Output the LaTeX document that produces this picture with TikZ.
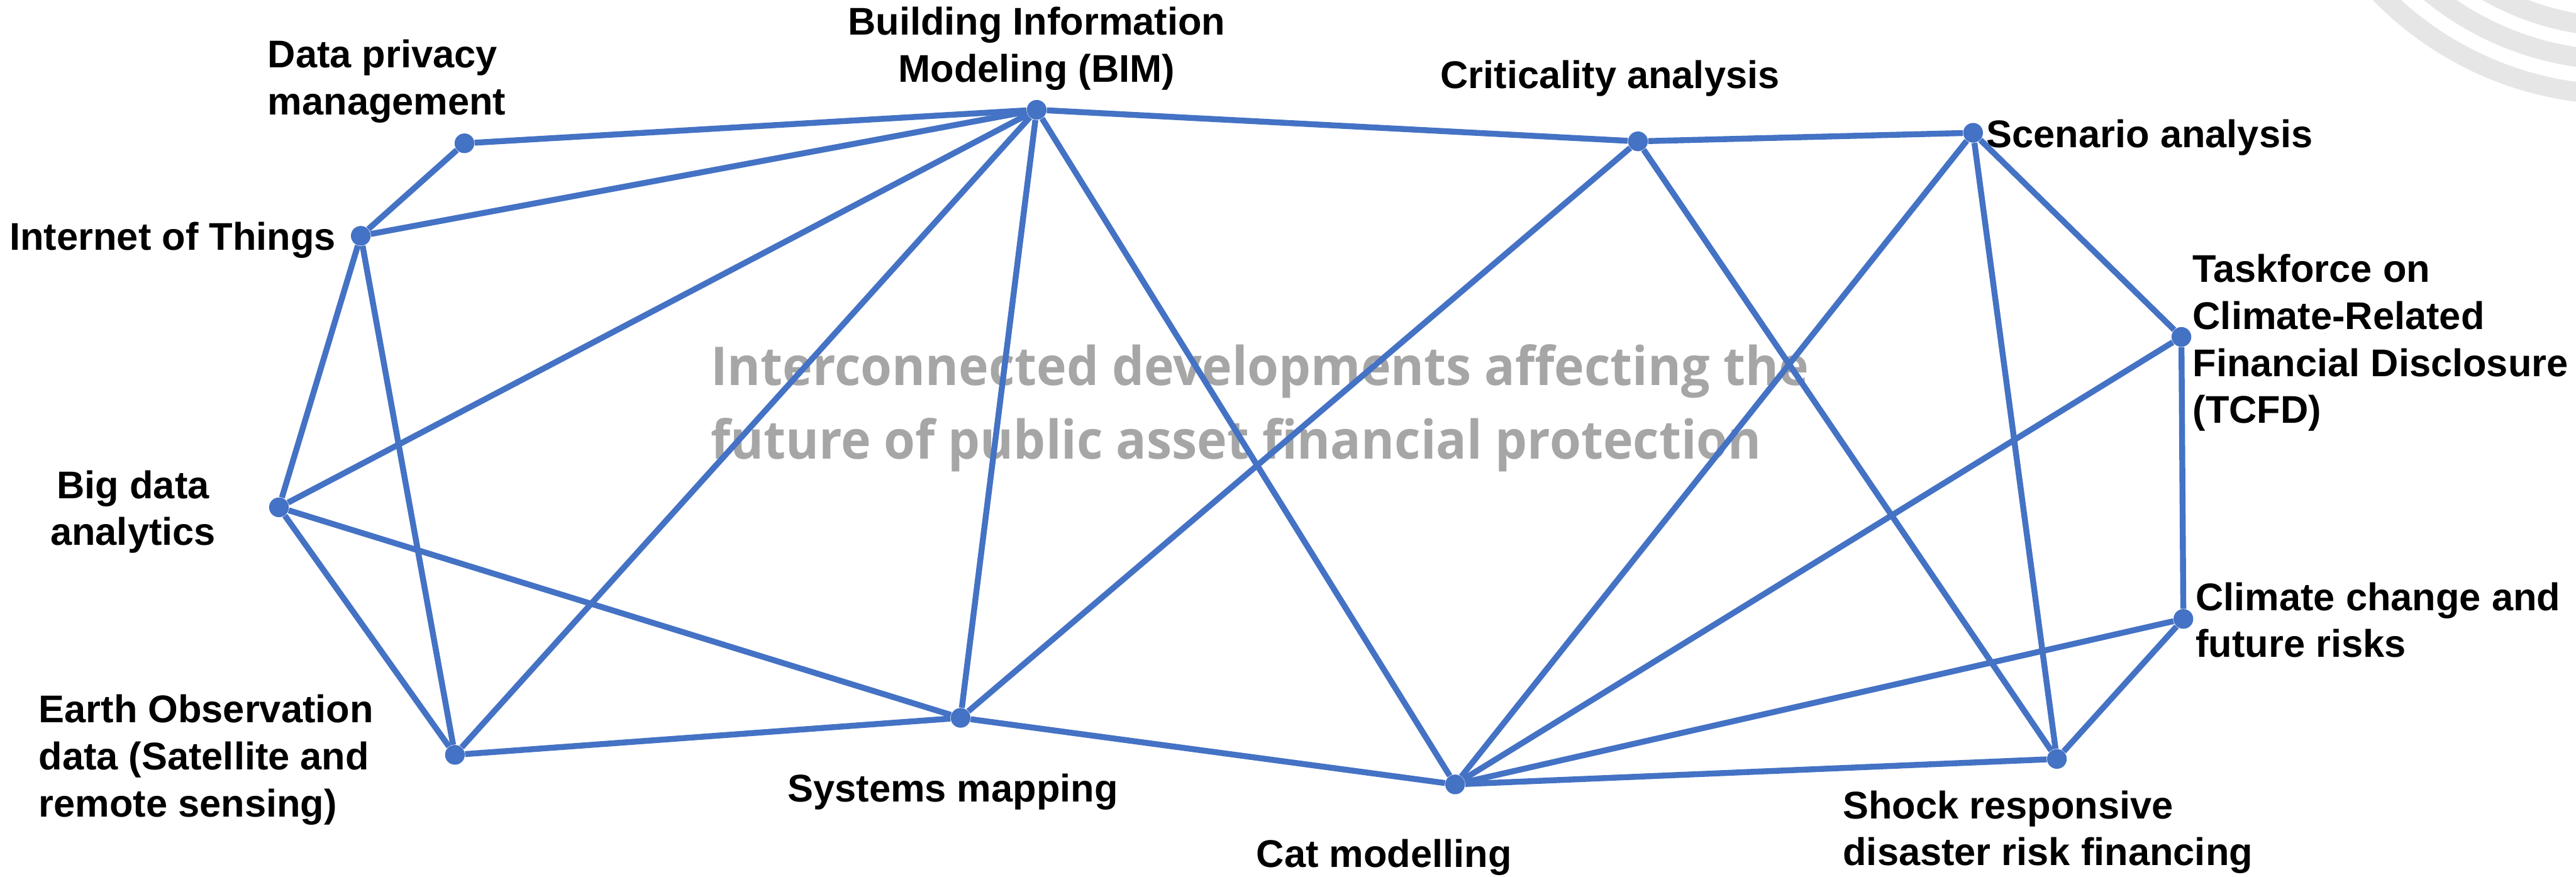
\documentclass[tikz,border=0pt]{standalone}
\usepackage{fontspec}
\setmainfont{Liberation Sans}
\newfontfamily\overlayfont[FakeStretch=0.95]{Open Sans}
\usetikzlibrary{backgrounds}
\definecolor{netblue}{HTML}{4472C4}
\definecolor{captiongray}{HTML}{A6A6A6}
\definecolor{arcgray}{HTML}{E6E6E6}

\begin{document}
\begin{tikzpicture}[x=1pt,y=-1pt,
  dot/.style={circle, fill=netblue, draw=none, inner sep=0pt, minimum size=12pt},
  link/.style={draw=netblue, line width=3.6pt},
  lbl/.style={font=\fontsize{23.5}{28.6}\selectfont\bfseries, inner sep=0pt, text=black},
  caption/.style={font=\overlayfont\bfseries\fontsize{32.5}{44.8}\selectfont, text=captiongray, inner sep=0pt, align=left},
  band/.style={draw=arcgray, line width=12pt}]

\useasboundingbox (0,0) rectangle (1568,533.5);

% network points
\node[dot] (dpm)   at (282.7,87.2)  {};
\node[dot] (iot)   at (219.6,143.5) {};
\node[dot] (bim)   at (631,66.8)    {};
\node[dot] (crit)  at (997,86)      {};
\node[dot] (scen)  at (1201,80.8)   {};
\node[dot] (tcfd)  at (1327.8,205)  {};
\node[dot] (clim)  at (1329,376.6)  {};
\node[dot] (shock) at (1252,461.8)  {};
\node[dot] (cat)   at (885.7,477.3) {};
\node[dot] (sys)   at (584.7,436.8) {};
\node[dot] (earth) at (276.9,459.3) {};
\node[dot] (big)   at (169.8,308.7) {};

% labels
\node[lbl, anchor=north west, align=left]   (tdpm)   at (162.8,24)    {Data privacy\\management};
\node[lbl, anchor=north, align=center]      (tbim)   at (631,4.2)     {Building Information\\Modeling (BIM)};
\node[lbl, anchor=base]                     (tcrit)  at (980,53.7)    {Criticality analysis};
\node[lbl, anchor=base west]                (tscen)  at (1209,89.9)   {Scenario analysis};
\node[lbl, anchor=north west, align=left]   (ttcfd)  at (1334.5,154.5){Taskforce on\\Climate-Related\\Financial Disclosure\\(TCFD)};
\node[lbl, anchor=north west, align=left]   (tclim)  at (1336.3,354.2){Climate change and\\future risks};
\node[lbl, anchor=north west, align=left]   (tshock) at (1121.6,480.9){Shock responsive\\disaster risk financing};
\node[lbl, anchor=base]                     (tcat)   at (842.5,527.8) {Cat modelling};
\node[lbl, anchor=base]                     (tsys)   at (580,487.8)   {Systems mapping};
\node[lbl, anchor=north west, align=left]   (tearth) at (23.4,422.5)  {Earth Observation\\data (Satellite and\\remote sensing)};
\node[lbl, anchor=north, align=center]      (tbig)   at (81,286)      {Big data\\analytics};
\node[lbl, anchor=base west]                (tiot)   at (5.7,152.3)   {Internet of Things};

\begin{scope}[on background layer]
  % decorative arcs in the upper right corner
  \begin{scope}
    \clip (0,0) rectangle (1568,533.5);
    \coordinate (arcc) at (1595,-147);
    \draw[band] (arcc) circle[radius=204.6pt];
    \draw[band] (arcc) circle[radius=183.6pt];
    \draw[band] (arcc) circle[radius=163.3pt];
  \end{scope}
  % central caption
  \node[caption, anchor=north west] (title) at (432.4,209.5)
    {Interconnected developments affecting the\\future of public asset financial protection};
  % connections
  \draw[link] (dpm) -- (iot);
  \draw[link] (dpm) -- (bim);
  \draw[link] (iot) -- (bim);
  \draw[link] (iot) -- (big);
  \draw[link] (iot) -- (earth);
  \draw[link] (big) -- (bim);
  \draw[link] (big) -- (earth);
  \draw[link] (big) -- (sys);
  \draw[link] (earth) -- (bim);
  \draw[link] (earth) -- (sys);
  \draw[link] (sys) -- (bim);
  \draw[link] (sys) -- (crit);
  \draw[link] (sys) -- (cat);
  \draw[link] (bim) -- (cat);
  \draw[link] (bim) -- (crit);
  \draw[link] (crit) -- (scen);
  \draw[link] (crit) -- (shock);
  \draw[link] (scen) -- (cat);
  \draw[link] (scen) -- (shock);
  \draw[link] (scen) -- (tcfd);
  \draw[link] (tcfd) -- (cat);
  \draw[link] (tcfd) -- (clim);
  \draw[link] (clim) -- (cat);
  \draw[link] (clim) -- (shock);
  \draw[link] (cat) -- (shock);
\end{scope}
\end{tikzpicture}
\end{document}
